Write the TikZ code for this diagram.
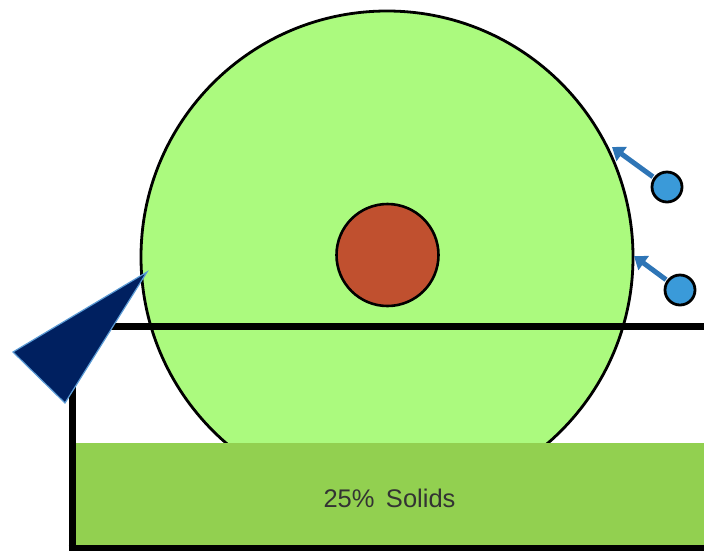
\documentclass[tikz,border=0pt]{standalone}
\usepackage{fontspec}
\setmainfont{Liberation Sans}
\usetikzlibrary{arrows.meta}
\definecolor{drum}{HTML}{ABFA7E}
\definecolor{solids}{HTML}{92D050}
\definecolor{core}{HTML}{C0502F}
\definecolor{blade}{HTML}{002060}
\definecolor{bladeedge}{HTML}{5B9BD5}
\definecolor{dotblue}{HTML}{3A9AD9}
\definecolor{arrowblue}{HTML}{2E75B6}
\definecolor{txt}{HTML}{333333}
\tikzset{
  drumstyle/.style={circle, draw=black, line width=2.8pt, fill=drum, minimum size=492pt, inner sep=0pt},
  corestyle/.style={circle, draw=black, line width=2.6pt, fill=core, minimum size=102pt, inner sep=0pt},
  particle/.style={circle, draw=black, line width=2.8pt, fill=dotblue, minimum size=30pt, inner sep=0pt},
  flow/.style={draw=arrowblue, line width=5pt, -{Triangle[length=12pt,width=17pt]}, shorten <=1pt},
  tankline/.style={line width=7pt, black}
}
\begin{document}
\begin{tikzpicture}[x=1pt,y=-1pt]
\useasboundingbox (0,0) rectangle (704,550);
% drum
\node[drumstyle] (drum) at (387,257) {};
\node[corestyle] (core) at (387.5,255) {};
% tank
\coordinate (tl) at (72,326);
\coordinate (tr) at (704,326);
\coordinate (bl) at (72,548);
\coordinate (br) at (704,548);
\draw[tankline] (tr) -- (tl);
\draw[tankline] (72,322.5) -- (bl);
\draw[tankline] (68.5,548) -- (br);
% solids
\fill[solids] (76,443) rectangle (704,544.5);
\node[font=\fontsize{25.5}{30}\selectfont, text=txt] (label) at (389.5,498) {25\%\hspace{0.45em}Solids};
% blade
\draw[fill=blade, draw=bladeedge, line width=1.2pt, line join=miter] (147,272) -- (13,352) -- (65,403) -- cycle;
% particles
\node[particle] (p1) at (667,187) {};
\node[particle] (p2) at (680,290) {};
\coordinate (t1) at (612,147);
\coordinate (t2) at (634,256);
\draw[flow] (p1) -- (t1);
\draw[flow] (p2) -- (t2);
\end{tikzpicture}
\end{document}
